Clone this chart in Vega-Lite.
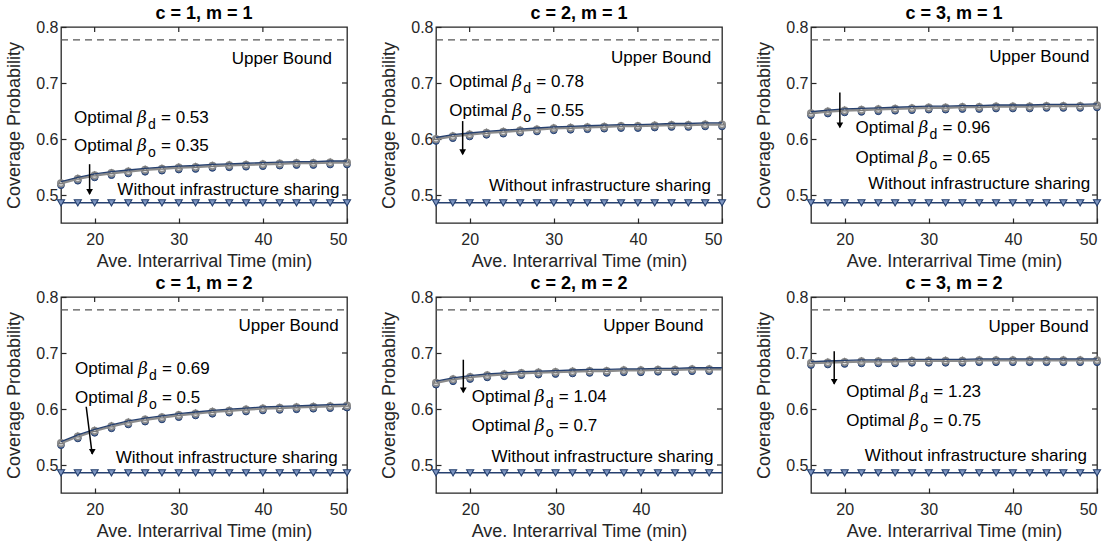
{
  "$schema": "https://vega.github.io/schema/vega-lite/v6.json",
  "background": "white",
  "padding": {"left": 5, "top": 4, "right": 5, "bottom": 2},
  "config": {
    "font": "Liberation Sans",
    "view": {"stroke": "#262626", "strokeWidth": 1.3},
    "axis": {"domain": false, "grid": false, "tickSize": -5, "tickColor": "#262626", "tickWidth": 1.2,
      "labelColor": "#262626", "labelFontSize": 16, "labelFont": "Liberation Sans",
      "titleFontSize": 18, "titleFontWeight": "normal", "titleColor": "#262626", "titleFont": "Liberation Sans"}
  },
  "data": {"values": [
    {"p":"c = 1, m = 1","k":"ub","x":16,"x2":50,"y":0.777},
    {"p":"c = 2, m = 1","k":"ub","x":16,"x2":50,"y":0.777},
    {"p":"c = 3, m = 1","k":"ub","x":16,"x2":50,"y":0.777},
    {"p":"c = 1, m = 2","k":"ub","x":16,"x2":50,"y":0.777},
    {"p":"c = 2, m = 2","k":"ub","x":16,"x2":49.5,"y":0.777},
    {"p":"c = 3, m = 2","k":"ub","x":16,"x2":50,"y":0.777},

    {"p":"c = 1, m = 1","k":"r","x":50,"y":0.5},{"p":"c = 1, m = 1","k":"r","x":50,"y":0.6},{"p":"c = 1, m = 1","k":"r","x":50,"y":0.7},
    {"p":"c = 2, m = 1","k":"r","x":50,"y":0.5},{"p":"c = 2, m = 1","k":"r","x":50,"y":0.6},{"p":"c = 2, m = 1","k":"r","x":50,"y":0.7},
    {"p":"c = 3, m = 1","k":"r","x":50,"y":0.5},{"p":"c = 3, m = 1","k":"r","x":50,"y":0.6},{"p":"c = 3, m = 1","k":"r","x":50,"y":0.7},
    {"p":"c = 1, m = 2","k":"r","x":50,"y":0.5},{"p":"c = 1, m = 2","k":"r","x":50,"y":0.6},{"p":"c = 1, m = 2","k":"r","x":50,"y":0.7},
    {"p":"c = 2, m = 2","k":"r","x":49.5,"y":0.5},{"p":"c = 2, m = 2","k":"r","x":49.5,"y":0.6},{"p":"c = 2, m = 2","k":"r","x":49.5,"y":0.7},
    {"p":"c = 3, m = 2","k":"r","x":50,"y":0.5},{"p":"c = 3, m = 2","k":"r","x":50,"y":0.6},{"p":"c = 3, m = 2","k":"r","x":50,"y":0.7},
    {"p":"c = 1, m = 1","k":"tp","x":20,"y":0.8},{"p":"c = 1, m = 1","k":"tp","x":30,"y":0.8},{"p":"c = 1, m = 1","k":"tp","x":40,"y":0.8},
    {"p":"c = 2, m = 1","k":"tp","x":20,"y":0.8},{"p":"c = 2, m = 1","k":"tp","x":30,"y":0.8},{"p":"c = 2, m = 1","k":"tp","x":40,"y":0.8},
    {"p":"c = 3, m = 1","k":"tp","x":20,"y":0.8},{"p":"c = 3, m = 1","k":"tp","x":30,"y":0.8},{"p":"c = 3, m = 1","k":"tp","x":40,"y":0.8},
    {"p":"c = 1, m = 2","k":"tp","x":20,"y":0.8},{"p":"c = 1, m = 2","k":"tp","x":30,"y":0.8},{"p":"c = 1, m = 2","k":"tp","x":40,"y":0.8},
    {"p":"c = 2, m = 2","k":"tp","x":20,"y":0.8},{"p":"c = 2, m = 2","k":"tp","x":30,"y":0.8},{"p":"c = 2, m = 2","k":"tp","x":40,"y":0.8},
    {"p":"c = 3, m = 2","k":"tp","x":20,"y":0.8},{"p":"c = 3, m = 2","k":"tp","x":30,"y":0.8},{"p":"c = 3, m = 2","k":"tp","x":40,"y":0.8},

    {"p":"c = 1, m = 1","k":"w","x":16,"y":0.486},{"p":"c = 1, m = 1","k":"w","x":18,"y":0.486},{"p":"c = 1, m = 1","k":"w","x":20,"y":0.486},{"p":"c = 1, m = 1","k":"w","x":22,"y":0.486},{"p":"c = 1, m = 1","k":"w","x":24,"y":0.486},{"p":"c = 1, m = 1","k":"w","x":26,"y":0.486},{"p":"c = 1, m = 1","k":"w","x":28,"y":0.486},{"p":"c = 1, m = 1","k":"w","x":30,"y":0.486},{"p":"c = 1, m = 1","k":"w","x":32,"y":0.486},{"p":"c = 1, m = 1","k":"w","x":34,"y":0.486},{"p":"c = 1, m = 1","k":"w","x":36,"y":0.486},{"p":"c = 1, m = 1","k":"w","x":38,"y":0.486},{"p":"c = 1, m = 1","k":"w","x":40,"y":0.486},{"p":"c = 1, m = 1","k":"w","x":42,"y":0.486},{"p":"c = 1, m = 1","k":"w","x":44,"y":0.486},{"p":"c = 1, m = 1","k":"w","x":46,"y":0.486},{"p":"c = 1, m = 1","k":"w","x":48,"y":0.486},{"p":"c = 1, m = 1","k":"w","x":50,"y":0.486},
    {"p":"c = 2, m = 1","k":"w","x":16,"y":0.486},{"p":"c = 2, m = 1","k":"w","x":18,"y":0.486},{"p":"c = 2, m = 1","k":"w","x":20,"y":0.486},{"p":"c = 2, m = 1","k":"w","x":22,"y":0.486},{"p":"c = 2, m = 1","k":"w","x":24,"y":0.486},{"p":"c = 2, m = 1","k":"w","x":26,"y":0.486},{"p":"c = 2, m = 1","k":"w","x":28,"y":0.486},{"p":"c = 2, m = 1","k":"w","x":30,"y":0.486},{"p":"c = 2, m = 1","k":"w","x":32,"y":0.486},{"p":"c = 2, m = 1","k":"w","x":34,"y":0.486},{"p":"c = 2, m = 1","k":"w","x":36,"y":0.486},{"p":"c = 2, m = 1","k":"w","x":38,"y":0.486},{"p":"c = 2, m = 1","k":"w","x":40,"y":0.486},{"p":"c = 2, m = 1","k":"w","x":42,"y":0.486},{"p":"c = 2, m = 1","k":"w","x":44,"y":0.486},{"p":"c = 2, m = 1","k":"w","x":46,"y":0.486},{"p":"c = 2, m = 1","k":"w","x":48,"y":0.486},{"p":"c = 2, m = 1","k":"w","x":50,"y":0.486},
    {"p":"c = 3, m = 1","k":"w","x":16,"y":0.486},{"p":"c = 3, m = 1","k":"w","x":18,"y":0.486},{"p":"c = 3, m = 1","k":"w","x":20,"y":0.486},{"p":"c = 3, m = 1","k":"w","x":22,"y":0.486},{"p":"c = 3, m = 1","k":"w","x":24,"y":0.486},{"p":"c = 3, m = 1","k":"w","x":26,"y":0.486},{"p":"c = 3, m = 1","k":"w","x":28,"y":0.486},{"p":"c = 3, m = 1","k":"w","x":30,"y":0.486},{"p":"c = 3, m = 1","k":"w","x":32,"y":0.486},{"p":"c = 3, m = 1","k":"w","x":34,"y":0.486},{"p":"c = 3, m = 1","k":"w","x":36,"y":0.486},{"p":"c = 3, m = 1","k":"w","x":38,"y":0.486},{"p":"c = 3, m = 1","k":"w","x":40,"y":0.486},{"p":"c = 3, m = 1","k":"w","x":42,"y":0.486},{"p":"c = 3, m = 1","k":"w","x":44,"y":0.486},{"p":"c = 3, m = 1","k":"w","x":46,"y":0.486},{"p":"c = 3, m = 1","k":"w","x":48,"y":0.486},{"p":"c = 3, m = 1","k":"w","x":50,"y":0.486},
    {"p":"c = 1, m = 2","k":"w","x":16,"y":0.486},{"p":"c = 1, m = 2","k":"w","x":18,"y":0.486},{"p":"c = 1, m = 2","k":"w","x":20,"y":0.486},{"p":"c = 1, m = 2","k":"w","x":22,"y":0.486},{"p":"c = 1, m = 2","k":"w","x":24,"y":0.486},{"p":"c = 1, m = 2","k":"w","x":26,"y":0.486},{"p":"c = 1, m = 2","k":"w","x":28,"y":0.486},{"p":"c = 1, m = 2","k":"w","x":30,"y":0.486},{"p":"c = 1, m = 2","k":"w","x":32,"y":0.486},{"p":"c = 1, m = 2","k":"w","x":34,"y":0.486},{"p":"c = 1, m = 2","k":"w","x":36,"y":0.486},{"p":"c = 1, m = 2","k":"w","x":38,"y":0.486},{"p":"c = 1, m = 2","k":"w","x":40,"y":0.486},{"p":"c = 1, m = 2","k":"w","x":42,"y":0.486},{"p":"c = 1, m = 2","k":"w","x":44,"y":0.486},{"p":"c = 1, m = 2","k":"w","x":46,"y":0.486},{"p":"c = 1, m = 2","k":"w","x":48,"y":0.486},{"p":"c = 1, m = 2","k":"w","x":50,"y":0.486},
    {"p":"c = 2, m = 2","k":"w","x":16,"y":0.486},{"p":"c = 2, m = 2","k":"w","x":18,"y":0.486},{"p":"c = 2, m = 2","k":"w","x":20,"y":0.486},{"p":"c = 2, m = 2","k":"w","x":22,"y":0.486},{"p":"c = 2, m = 2","k":"w","x":24,"y":0.486},{"p":"c = 2, m = 2","k":"w","x":26,"y":0.486},{"p":"c = 2, m = 2","k":"w","x":28,"y":0.486},{"p":"c = 2, m = 2","k":"w","x":30,"y":0.486},{"p":"c = 2, m = 2","k":"w","x":32,"y":0.486},{"p":"c = 2, m = 2","k":"w","x":34,"y":0.486},{"p":"c = 2, m = 2","k":"w","x":36,"y":0.486},{"p":"c = 2, m = 2","k":"w","x":38,"y":0.486},{"p":"c = 2, m = 2","k":"w","x":40,"y":0.486},{"p":"c = 2, m = 2","k":"w","x":42,"y":0.486},{"p":"c = 2, m = 2","k":"w","x":44,"y":0.486},{"p":"c = 2, m = 2","k":"w","x":46,"y":0.486},{"p":"c = 2, m = 2","k":"w","x":48,"y":0.486},{"p":"c = 2, m = 2","k":"w","x":49.5,"y":0.486},
    {"p":"c = 3, m = 2","k":"w","x":16,"y":0.486},{"p":"c = 3, m = 2","k":"w","x":18,"y":0.486},{"p":"c = 3, m = 2","k":"w","x":20,"y":0.486},{"p":"c = 3, m = 2","k":"w","x":22,"y":0.486},{"p":"c = 3, m = 2","k":"w","x":24,"y":0.486},{"p":"c = 3, m = 2","k":"w","x":26,"y":0.486},{"p":"c = 3, m = 2","k":"w","x":28,"y":0.486},{"p":"c = 3, m = 2","k":"w","x":30,"y":0.486},{"p":"c = 3, m = 2","k":"w","x":32,"y":0.486},{"p":"c = 3, m = 2","k":"w","x":34,"y":0.486},{"p":"c = 3, m = 2","k":"w","x":36,"y":0.486},{"p":"c = 3, m = 2","k":"w","x":38,"y":0.486},{"p":"c = 3, m = 2","k":"w","x":40,"y":0.486},{"p":"c = 3, m = 2","k":"w","x":42,"y":0.486},{"p":"c = 3, m = 2","k":"w","x":44,"y":0.486},{"p":"c = 3, m = 2","k":"w","x":46,"y":0.486},{"p":"c = 3, m = 2","k":"w","x":48,"y":0.486},{"p":"c = 3, m = 2","k":"w","x":50,"y":0.486},

    {"p":"c = 1, m = 1","k":"c","x":16,"y":0.521},{"p":"c = 1, m = 1","k":"c","x":18,"y":0.529},{"p":"c = 1, m = 1","k":"c","x":20,"y":0.535},{"p":"c = 1, m = 1","k":"c","x":22,"y":0.539},{"p":"c = 1, m = 1","k":"c","x":24,"y":0.542},{"p":"c = 1, m = 1","k":"c","x":26,"y":0.545},{"p":"c = 1, m = 1","k":"c","x":28,"y":0.547},{"p":"c = 1, m = 1","k":"c","x":30,"y":0.549},{"p":"c = 1, m = 1","k":"c","x":32,"y":0.550},{"p":"c = 1, m = 1","k":"c","x":34,"y":0.552},{"p":"c = 1, m = 1","k":"c","x":36,"y":0.553},{"p":"c = 1, m = 1","k":"c","x":38,"y":0.554},{"p":"c = 1, m = 1","k":"c","x":40,"y":0.555},{"p":"c = 1, m = 1","k":"c","x":42,"y":0.556},{"p":"c = 1, m = 1","k":"c","x":44,"y":0.557},{"p":"c = 1, m = 1","k":"c","x":46,"y":0.557},{"p":"c = 1, m = 1","k":"c","x":48,"y":0.558},{"p":"c = 1, m = 1","k":"c","x":50,"y":0.558},
    {"p":"c = 2, m = 1","k":"c","x":16,"y":0.600},{"p":"c = 2, m = 1","k":"c","x":18,"y":0.605},{"p":"c = 2, m = 1","k":"c","x":20,"y":0.608},{"p":"c = 2, m = 1","k":"c","x":22,"y":0.611},{"p":"c = 2, m = 1","k":"c","x":24,"y":0.613},{"p":"c = 2, m = 1","k":"c","x":26,"y":0.615},{"p":"c = 2, m = 1","k":"c","x":28,"y":0.617},{"p":"c = 2, m = 1","k":"c","x":30,"y":0.619},{"p":"c = 2, m = 1","k":"c","x":32,"y":0.620},{"p":"c = 2, m = 1","k":"c","x":34,"y":0.621},{"p":"c = 2, m = 1","k":"c","x":36,"y":0.622},{"p":"c = 2, m = 1","k":"c","x":38,"y":0.623},{"p":"c = 2, m = 1","k":"c","x":40,"y":0.623},{"p":"c = 2, m = 1","k":"c","x":42,"y":0.624},{"p":"c = 2, m = 1","k":"c","x":44,"y":0.625},{"p":"c = 2, m = 1","k":"c","x":46,"y":0.625},{"p":"c = 2, m = 1","k":"c","x":48,"y":0.626},{"p":"c = 2, m = 1","k":"c","x":50,"y":0.626},
    {"p":"c = 3, m = 1","k":"c","x":16,"y":0.646},{"p":"c = 3, m = 1","k":"c","x":18,"y":0.649},{"p":"c = 3, m = 1","k":"c","x":20,"y":0.651},{"p":"c = 3, m = 1","k":"c","x":22,"y":0.652},{"p":"c = 3, m = 1","k":"c","x":24,"y":0.653},{"p":"c = 3, m = 1","k":"c","x":26,"y":0.654},{"p":"c = 3, m = 1","k":"c","x":28,"y":0.655},{"p":"c = 3, m = 1","k":"c","x":30,"y":0.656},{"p":"c = 3, m = 1","k":"c","x":32,"y":0.656},{"p":"c = 3, m = 1","k":"c","x":34,"y":0.657},{"p":"c = 3, m = 1","k":"c","x":36,"y":0.657},{"p":"c = 3, m = 1","k":"c","x":38,"y":0.658},{"p":"c = 3, m = 1","k":"c","x":40,"y":0.658},{"p":"c = 3, m = 1","k":"c","x":42,"y":0.658},{"p":"c = 3, m = 1","k":"c","x":44,"y":0.659},{"p":"c = 3, m = 1","k":"c","x":46,"y":0.659},{"p":"c = 3, m = 1","k":"c","x":48,"y":0.659},{"p":"c = 3, m = 1","k":"c","x":50,"y":0.660},
    {"p":"c = 1, m = 2","k":"c","x":16,"y":0.539},{"p":"c = 1, m = 2","k":"c","x":18,"y":0.551},{"p":"c = 1, m = 2","k":"c","x":20,"y":0.561},{"p":"c = 1, m = 2","k":"c","x":22,"y":0.569},{"p":"c = 1, m = 2","k":"c","x":24,"y":0.576},{"p":"c = 1, m = 2","k":"c","x":26,"y":0.581},{"p":"c = 1, m = 2","k":"c","x":28,"y":0.585},{"p":"c = 1, m = 2","k":"c","x":30,"y":0.589},{"p":"c = 1, m = 2","k":"c","x":32,"y":0.592},{"p":"c = 1, m = 2","k":"c","x":34,"y":0.595},{"p":"c = 1, m = 2","k":"c","x":36,"y":0.597},{"p":"c = 1, m = 2","k":"c","x":38,"y":0.599},{"p":"c = 1, m = 2","k":"c","x":40,"y":0.601},{"p":"c = 1, m = 2","k":"c","x":42,"y":0.602},{"p":"c = 1, m = 2","k":"c","x":44,"y":0.603},{"p":"c = 1, m = 2","k":"c","x":46,"y":0.604},{"p":"c = 1, m = 2","k":"c","x":48,"y":0.605},{"p":"c = 1, m = 2","k":"c","x":50,"y":0.606},
    {"p":"c = 2, m = 2","k":"c","x":16,"y":0.647},{"p":"c = 2, m = 2","k":"c","x":18,"y":0.653},{"p":"c = 2, m = 2","k":"c","x":20,"y":0.657},{"p":"c = 2, m = 2","k":"c","x":22,"y":0.660},{"p":"c = 2, m = 2","k":"c","x":24,"y":0.662},{"p":"c = 2, m = 2","k":"c","x":26,"y":0.664},{"p":"c = 2, m = 2","k":"c","x":28,"y":0.665},{"p":"c = 2, m = 2","k":"c","x":30,"y":0.666},{"p":"c = 2, m = 2","k":"c","x":32,"y":0.667},{"p":"c = 2, m = 2","k":"c","x":34,"y":0.668},{"p":"c = 2, m = 2","k":"c","x":36,"y":0.668},{"p":"c = 2, m = 2","k":"c","x":38,"y":0.669},{"p":"c = 2, m = 2","k":"c","x":40,"y":0.669},{"p":"c = 2, m = 2","k":"c","x":42,"y":0.670},{"p":"c = 2, m = 2","k":"c","x":44,"y":0.670},{"p":"c = 2, m = 2","k":"c","x":46,"y":0.671},{"p":"c = 2, m = 2","k":"c","x":48,"y":0.671},{"p":"c = 2, m = 2","k":"c","x":49.5,"y":0.671},
    {"p":"c = 3, m = 2","k":"c","x":16,"y":0.682},{"p":"c = 3, m = 2","k":"c","x":18,"y":0.683},{"p":"c = 3, m = 2","k":"c","x":20,"y":0.684},{"p":"c = 3, m = 2","k":"c","x":22,"y":0.685},{"p":"c = 3, m = 2","k":"c","x":24,"y":0.685},{"p":"c = 3, m = 2","k":"c","x":26,"y":0.685},{"p":"c = 3, m = 2","k":"c","x":28,"y":0.686},{"p":"c = 3, m = 2","k":"c","x":30,"y":0.686},{"p":"c = 3, m = 2","k":"c","x":32,"y":0.686},{"p":"c = 3, m = 2","k":"c","x":34,"y":0.686},{"p":"c = 3, m = 2","k":"c","x":36,"y":0.687},{"p":"c = 3, m = 2","k":"c","x":38,"y":0.687},{"p":"c = 3, m = 2","k":"c","x":40,"y":0.687},{"p":"c = 3, m = 2","k":"c","x":42,"y":0.687},{"p":"c = 3, m = 2","k":"c","x":44,"y":0.687},{"p":"c = 3, m = 2","k":"c","x":46,"y":0.687},{"p":"c = 3, m = 2","k":"c","x":48,"y":0.687},{"p":"c = 3, m = 2","k":"c","x":50,"y":0.687},

    {"p":"c = 1, m = 1","k":"t","x":36.3,"y":0.734,"label":"Upper Bound"},
    {"p":"c = 1, m = 1","k":"t","x":22.7,"y":0.4995,"label":"Without infrastructure sharing"},
    {"p":"c = 2, m = 1","k":"t","x":36.8,"y":0.736,"label":"Upper Bound"},
    {"p":"c = 2, m = 1","k":"t","x":22.3,"y":0.507,"label":"Without infrastructure sharing"},
    {"p":"c = 3, m = 1","k":"t","x":37.2,"y":0.7375,"label":"Upper Bound"},
    {"p":"c = 3, m = 1","k":"t","x":22.8,"y":0.510,"label":"Without infrastructure sharing"},
    {"p":"c = 1, m = 2","k":"t","x":37.1,"y":0.740,"label":"Upper Bound"},
    {"p":"c = 1, m = 2","k":"t","x":22.5,"y":0.504,"label":"Without infrastructure sharing"},
    {"p":"c = 2, m = 2","k":"t","x":35.6,"y":0.739,"label":"Upper Bound"},
    {"p":"c = 2, m = 2","k":"t","x":22.5,"y":0.506,"label":"Without infrastructure sharing"},
    {"p":"c = 3, m = 2","k":"t","x":37.1,"y":0.737,"label":"Upper Bound"},
    {"p":"c = 3, m = 2","k":"t","x":22.4,"y":0.508,"label":"Without infrastructure sharing"},

    {"p":"c = 1, m = 1","k":"b","x":17.55,"y":0.629,"sub":"d","val":"= 0.53"},
    {"p":"c = 1, m = 1","k":"b","x":17.55,"y":0.579,"sub":"o","val":"= 0.35"},
    {"p":"c = 2, m = 1","k":"b","x":17.58,"y":0.692,"sub":"d","val":"= 0.78"},
    {"p":"c = 2, m = 1","k":"b","x":17.58,"y":0.641,"sub":"o","val":"= 0.55"},
    {"p":"c = 3, m = 1","k":"b","x":21.3,"y":0.610,"sub":"d","val":"= 0.96"},
    {"p":"c = 3, m = 1","k":"b","x":21.3,"y":0.558,"sub":"o","val":"= 0.65"},
    {"p":"c = 1, m = 2","k":"b","x":17.66,"y":0.663,"sub":"d","val":"= 0.69"},
    {"p":"c = 1, m = 2","k":"b","x":17.66,"y":0.610,"sub":"o","val":"= 0.5"},
    {"p":"c = 2, m = 2","k":"b","x":20.2,"y":0.613,"sub":"d","val":"= 1.04"},
    {"p":"c = 2, m = 2","k":"b","x":20.2,"y":0.561,"sub":"o","val":"= 0.7"},
    {"p":"c = 3, m = 2","k":"b","x":20.2,"y":0.621,"sub":"d","val":"= 1.23"},
    {"p":"c = 3, m = 2","k":"b","x":20.2,"y":0.569,"sub":"o","val":"= 0.75"},

    {"p":"c = 1, m = 1","k":"a","x":19.4,"y":0.555,"x2":19.4,"y2":0.502},
    {"p":"c = 2, m = 1","k":"a","x":19.17,"y":0.632,"x2":19.17,"y2":0.573},
    {"p":"c = 3, m = 1","k":"a","x":19.43,"y":0.683,"x2":19.43,"y2":0.621},
    {"p":"c = 1, m = 2","k":"a","x":19.0,"y":0.604,"x2":19.70,"y2":0.520},
    {"p":"c = 2, m = 2","k":"a","x":19.2,"y":0.688,"x2":19.2,"y2":0.630},
    {"p":"c = 3, m = 2","k":"a","x":18.76,"y":0.703,"x2":18.76,"y2":0.645},

    {"p":"c = 1, m = 1","k":"h","x":19.4,"y":0.500},
    {"p":"c = 2, m = 1","k":"h","x":19.17,"y":0.571},
    {"p":"c = 3, m = 1","k":"h","x":19.43,"y":0.619},
    {"p":"c = 1, m = 2","k":"h","x":19.72,"y":0.518},
    {"p":"c = 2, m = 2","k":"h","x":19.2,"y":0.628},
    {"p":"c = 3, m = 2","k":"h","x":18.76,"y":0.643}
  ]},
  "facet": {"field": "p", "type": "nominal",
    "sort": ["c = 1, m = 1","c = 2, m = 1","c = 3, m = 1","c = 1, m = 2","c = 2, m = 2","c = 3, m = 2"],
    "header": {"title": null, "labelFontSize": 18, "labelFontWeight": "bold", "labelColor": "black", "labelFont": "Liberation Sans", "labelPadding": -4}},
  "columns": 3,
  "bounds": "flush",
  "spacing": {"row": 74, "column": 89},
  "resolve": {"scale": {"x": "independent"}, "axis": {"x": "independent", "y": "independent"}},
  "spec": {
    "width": 286,
    "height": 196,
    "encoding": {
      "x": {"field": "x", "type": "quantitative", "scale": {"nice": false, "zero": false}, "title": "Ave. Interarrival Time (min)",
        "axis": {"tickCount": 4, "format": "d", "labelPadding": 13, "titlePadding": 5}},
      "y": {"field": "y", "type": "quantitative", "scale": {"domain": [0.45, 0.8], "nice": false}, "title": "Coverage Probability",
        "axis": {"values": [0.5, 0.6, 0.7, 0.8], "format": ".1f", "labelPadding": 8, "titlePadding": 12}}
    },
    "layer": [
      {
        "transform": [{"filter": "datum.k == 'ub'"}],
        "mark": {"type": "rule", "color": "#555555", "strokeWidth": 1.3, "strokeDash": [7, 5]},
        "encoding": {"x2": {"field": "x2"}}
      },
      {
        "transform": [{"filter": "datum.k == 'r'"}],
        "mark": {"type": "point", "shape": "stroke", "filled": false, "stroke": "#262626", "strokeWidth": 1.2, "size": 25, "opacity": 1, "xOffset": -2.5}
      },
      {
        "transform": [{"filter": "datum.k == 'tp'"}],
        "mark": {"type": "point", "shape": "stroke", "angle": 90, "filled": false, "stroke": "#262626", "strokeWidth": 1.2, "size": 25, "opacity": 1, "yOffset": 2.5}
      },
      {
        "transform": [{"filter": "datum.k == 'w'"}],
        "mark": {"type": "line", "color": "#26406f", "strokeWidth": 1.5}
      },
      {
        "transform": [{"filter": "datum.k == 'w' && datum.x % 2 == 0"}],
        "mark": {"type": "point", "shape": "triangle-down", "filled": true, "fill": "#7d95c0", "stroke": "#26406f", "strokeWidth": 1.1, "size": 50, "opacity": 1}
      },
      {
        "transform": [{"filter": "datum.k == 'c'"}],
        "mark": {"type": "line", "color": "#8c8c8c", "strokeWidth": 2.5}
      },
      {
        "transform": [{"filter": "datum.k == 'c' && datum.x % 2 == 0"}],
        "mark": {"type": "point", "shape": "circle", "filled": true, "fill": "#4d6899", "stroke": "#26406f", "strokeWidth": 1, "size": 45, "opacity": 1, "yOffset": 2}
      },
      {
        "transform": [{"filter": "datum.k == 'c' && datum.x % 2 == 0"}],
        "mark": {"type": "point", "shape": "circle", "filled": true, "fill": "#e0e0e0", "stroke": "#8c8c8c", "strokeWidth": 1.6, "size": 42, "opacity": 1}
      },
      {
        "transform": [{"filter": "datum.k == 'c' && datum.x % 2 == 0"}],
        "mark": {"type": "point", "shape": "triangle-up", "filled": false, "stroke": "#7a7a7a", "strokeWidth": 1.3, "size": 20, "opacity": 1, "yOffset": -1.5}
      },
      {
        "transform": [{"filter": "datum.k == 'c'"}],
        "mark": {"type": "line", "color": "#26406f", "strokeWidth": 1.3, "yOffset": -1.5}
      },
      {
        "transform": [{"filter": "datum.k == 't'"}],
        "mark": {"type": "text", "align": "left", "baseline": "alphabetic", "fontSize": 17, "color": "black"},
        "encoding": {"text": {"field": "label"}}
      },
      {
        "transform": [{"filter": "datum.k == 'b'"}],
        "mark": {"type": "text", "align": "left", "baseline": "alphabetic", "fontSize": 17, "color": "black", "text": "Optimal"}
      },
      {
        "transform": [{"filter": "datum.k == 'b'"}],
        "mark": {"type": "text", "align": "left", "baseline": "alphabetic", "fontSize": 17, "color": "black", "text": "β", "font": "DejaVu Serif", "fontStyle": "italic", "dx": 63}
      },
      {
        "transform": [{"filter": "datum.k == 'b'"}],
        "mark": {"type": "text", "align": "left", "baseline": "alphabetic", "fontSize": 14, "color": "black", "dx": 74, "dy": 6},
        "encoding": {"text": {"field": "sub"}}
      },
      {
        "transform": [{"filter": "datum.k == 'b'"}],
        "mark": {"type": "text", "align": "left", "baseline": "alphabetic", "fontSize": 17, "color": "black", "dx": 87},
        "encoding": {"text": {"field": "val"}}
      },
      {
        "transform": [{"filter": "datum.k == 'a'"}],
        "mark": {"type": "rule", "color": "black", "strokeWidth": 1.5},
        "encoding": {"x2": {"field": "x2"}, "y2": {"field": "y2"}}
      },
      {
        "transform": [{"filter": "datum.k == 'h'"}],
        "mark": {"type": "point", "shape": "triangle-down", "filled": true, "color": "black", "size": 45, "opacity": 1, "yOffset": -3}
      }
    ]
  }
}
